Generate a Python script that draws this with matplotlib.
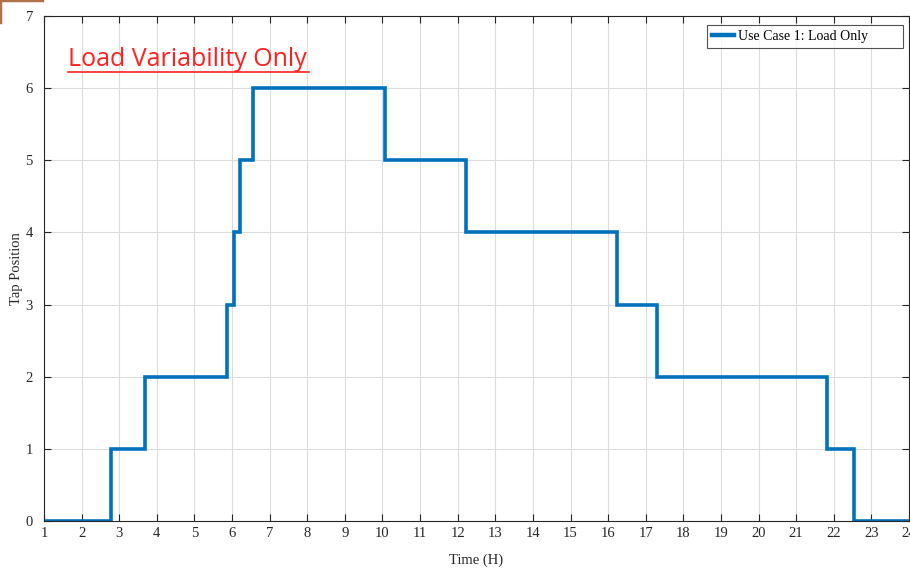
import numpy as np
import matplotlib.pyplot as plt
from matplotlib.lines import Line2D

# step change times (hours) and the tap position held after each one
change_times = [1.0, 2.77, 3.69, 5.87, 6.05, 6.22, 6.57, 10.07, 12.21, 16.24, 17.30, 21.82, 22.55, 24.0]
tap_positions = [0, 1, 2, 3, 4, 5, 6, 5, 4, 3, 2, 1, 0, 0]

x_ticks = list(range(1, 25))
y_ticks = list(range(0, 8))

plt.rcParams['font.family'] = ['Liberation Serif', 'DejaVu Serif']

fig = plt.figure(figsize=(9.1, 5.68), dpi=100)
ax = fig.add_axes([44 / 910, 1 - 521 / 568, 865 / 910, 505 / 568])

ax.step(change_times, tap_positions, where="post", color="#0072BD", linewidth=2.6,
        label="Use Case 1: Load Only", solid_joinstyle="miter")

ax.set_xlim(1, 24)
ax.set_ylim(0, 7)
ax.set_xticks(x_ticks)
ax.set_yticks(y_ticks)
ax.grid(True, color="#dcdcdc", linewidth=0.8)
ax.set_axisbelow(True)
ax.tick_params(direction="in", top=True, right=True, length=5, width=0.8,
               colors="#262626", labelsize=10.5, pad=4)
ax.tick_params(axis="y", pad=8)
for s in ax.spines.values():
    s.set_color("#262626")
    s.set_linewidth(0.8)

ax.set_xlabel("Time (H)", fontsize=10.5, color="#262626", labelpad=10)
ax.set_ylabel("Tap Position", fontsize=10.5, color="#262626", labelpad=2)

leg = ax.legend(loc="upper left", bbox_to_anchor=(0.7665, 0.937, 0.2266, 0.045),
                mode="expand", fontsize=10, frameon=True, fancybox=False,
                edgecolor="#262626", handlelength=1.6, handletextpad=0.3,
                borderpad=0.35, borderaxespad=0)
leg.get_frame().set_linewidth(0.8)
for h in leg.get_lines():
    h.set_linewidth(3.2)

fig.text(68 / 910, 1 - 60 / 568, "Load Variability Only", color="#ff2020",
         fontsize=18, family=["Open Sans", "DejaVu Sans"], va="center")
fig.add_artist(Line2D([68 / 910, 309 / 910], [1 - 72 / 568, 1 - 72 / 568],
                      color="#ff2020", linewidth=1.2, transform=fig.transFigure))

# slide selection border remnant at the top left corner
fig.add_artist(Line2D([0, 0, 42 / 910], [1 - 22 / 568, 1, 1], color="#b0704a",
                      linewidth=2.5, transform=fig.transFigure))

fig.savefig("out.png", dpi=100)
